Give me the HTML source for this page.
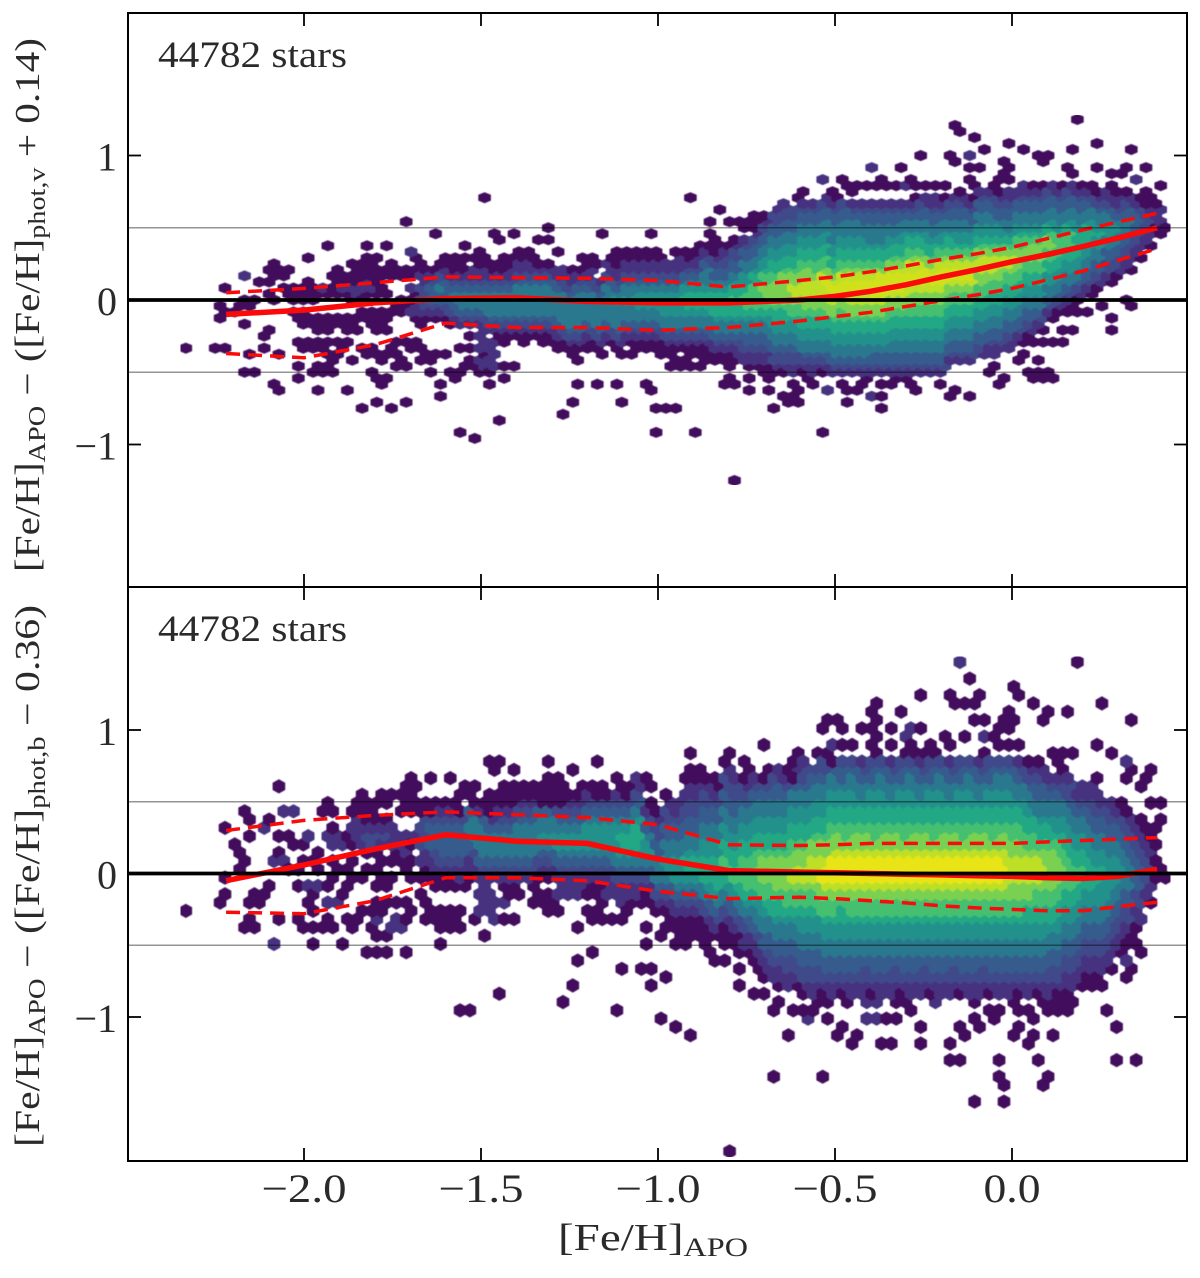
<!DOCTYPE html>
<html><head><meta charset="utf-8"><title>Metallicity residuals</title>
<style>
html,body{margin:0;padding:0;background:#fff}
svg{display:block}
text{font-family:"Liberation Serif",serif;fill:#2a2a2a}
</style></head>
<body>
<svg id="chart" xmlns="http://www.w3.org/2000/svg" width="1200" height="1278" viewBox="0 0 1200 1278">
<defs>
<clipPath id="clipTop"><rect x="128" y="12" width="1059" height="575"/></clipPath>
<clipPath id="clipBot"><rect x="128" y="587" width="1059" height="574"/></clipPath>
<filter id="soft" x="0" y="0" width="100%" height="100%"><feGaussianBlur stdDeviation="0.5"/></filter>
</defs>
<g id="panels"></g>
<text transform="translate(39,572) rotate(-90)" font-size="35" textLength="534" lengthAdjust="spacingAndGlyphs">[Fe/H]<tspan font-size="24" dy="6">APO</tspan><tspan dy="-6"> − ([Fe/H]</tspan><tspan font-size="24" dy="6">phot,v</tspan><tspan dy="-6"> + 0.14)</tspan></text>
<text transform="translate(39,1147) rotate(-90)" font-size="35" textLength="542" lengthAdjust="spacingAndGlyphs">[Fe/H]<tspan font-size="24" dy="6">APO</tspan><tspan dy="-6"> − ([Fe/H]</tspan><tspan font-size="24" dy="6">phot,b</tspan><tspan dy="-6"> − 0.36)</tspan></text>
<text x="558" y="1250" font-size="38" textLength="190" lengthAdjust="spacingAndGlyphs">[Fe/H]<tspan font-size="26" dy="6">APO</tspan></text>
</svg>
<script>
// ---- axis ticks ----
const xTickValues = [-2.0, -1.5, -1.0, -0.5, 0.0];
const xTickLabels = ["−2.0", "−1.5", "−1.0", "−0.5", "0.0"];
const yTickValues = [1, 0, -1];
const yTickLabels = ["1", "0", "−1"];
const refLevels = [0.5, -0.5];
const starCount = "44782 stars";
// ---- running statistics ----
const statFeH = [-2.22,-2.0,-1.8,-1.6,-1.4,-1.2,-1.0,-0.8,-0.6,-0.5,-0.4,-0.3,-0.2,-0.1,0,0.1,0.2,0.3,0.41];
const topMedian = [-0.10,-0.07,-0.02,0.01,0.015,-0.01,-0.02,-0.02,0.0,0.025,0.06,0.105,0.16,0.21,0.265,0.315,0.37,0.43,0.50];
const topUpper = [0.05,0.08,0.12,0.16,0.155,0.15,0.135,0.09,0.135,0.16,0.195,0.235,0.28,0.32,0.365,0.425,0.485,0.54,0.60];
const topLower = [-0.37,-0.40,-0.31,-0.16,-0.19,-0.19,-0.21,-0.19,-0.145,-0.115,-0.085,-0.045,-0.005,0.035,0.08,0.14,0.20,0.275,0.355];
const botMedian = [-0.05,0.06,0.17,0.27,0.225,0.21,0.10,0.02,0.01,0.005,0.0,-0.005,-0.01,-0.015,-0.02,-0.03,-0.035,-0.02,0.03];
const botUpper = [0.30,0.37,0.405,0.43,0.41,0.39,0.34,0.20,0.195,0.20,0.21,0.21,0.21,0.21,0.21,0.22,0.23,0.24,0.25];
const botLower = [-0.27,-0.28,-0.19,-0.03,-0.03,-0.05,-0.125,-0.175,-0.165,-0.175,-0.19,-0.205,-0.225,-0.24,-0.25,-0.26,-0.26,-0.23,-0.20];
// ---- hexbin cells: "column|row:levels row:levels" (levels run upward from the given row) ----
const topCells = [
"0|-8:0","3|-8:0 -3:0 -1:0","4|-8:0 -2:0 2:0","5|-2:00","6|-12:0 -9:0 -4:0 -1:00 4:1","7|-12:0 0:0 3:0",
"8|-8:0 -6:00 1:0 3:0 5:0","9|-15:00 -9:0 0:0 4:000","10|1:00 4:00","11|-13:0 -11:0 -7:0 -3:00 0:000",
"12|-8:00 -4:000 0:0000 7:0","13|-15:0 -12:00 -8:00 -5:000 0:000","14|-12:00 -9:000 -5:000 1:01 9:0",
"15|-12:0 -10:00 -7:0 -4:00 1:00000","16|-15:0 -8:00 -5:000 1:0100","17|-10:0 -5:000 0:0110000",
"18|-18:0 -9:00 -3:00 0:00110000 9:0","19|-17:0 -13:00 -9:00 -5:0000 1:0100000","20|-14:00 -10:00 -5:0000 1:00 4:00 9:0",
"21|-18:0 -11:0 -9:000 -2:00 4:000","22|-17:0 -11:00 -7:0 -2:000 4:00 13:0","23|-8:00 -3:01100 2:1 4:00 7:01",
"24|-10:000 -4:0012222110 6:0","25|-12:0 -10:00 -3:012333210 11:0","26|-16:0 -14:0 -9:0 -3:0123343210 7:0",
"27|-13:00 -4:01233432100 7:0","28|-22:0 -12:00 -8:0 -4:1234443210 6:00 9:0","29|-23:0 -11:00 -8:0 -6:0 -4:1234443211 7:0",
"30|-12:0110 -8:1111 -4:12344432110 7:00 17:0","31|-14:0 -12:011 -9:111 -5:123444432100 11:0",
"32|-20:0 -13:0 -11:0 -7:00 -5:1234444321000 10:0","33|-11:0 -6:0 -5:1234444321100 11:0",
"34|-7:0012344444321100","35|-6:012344444321100","36|-7:00123444443210 10:0","37|-7:00123444443210 10:0 12:0",
"38|-19:0 -8:00123444443211 8:0","39|-17:0 -9:001234444432110","40|-14:0 -10:0 -8:01234444443210 7:0",
"41|-8:0012344444321100","42|-14:0 -9:0 -8:012344444321 6:0 11:0","43|-7:012344444432110",
"44|-17:0 -14:0 -9:00123444454321100 8:0","45|-9:0 -7:0123444544321100","46|-8:0012344555432110 8:0",
"47|-15:0 -14:0 -8:0 -7:0123445554321100 11:0","48|-22:0 -18:0 -9:000123445554321100",
"49|-18:0 -11:0 -9:0 -8:012344555543211","50|-18:0 -11:00 -8:0123445555432111 8:0",
"51|-11:00 -9:0 -8:012344566654321 7:00 17:0","52|-22:0 -11:0 -9:0012344566654321100",
"53|-10:00 -8:01234456665444321 9:0 11:0 13:0","54|-10:000 -9:012344566665433210 9:00 15:0",
"55|-14:00 -11:00 -9:0123445666654332210 13:0","56|-30:0 -14:0 -10:011234456676654332210 13:0",
"57|-15:0 -13:0 -11:0112334456777655443321 12:0 13:0","58|-11:011233445677776654433210 13:0 14:0",
"59|-15:0 -13:0 -12:00112334456778877655443 3210","60|-18:0 -12:0122344556678888766554433221",
"61|-17:0 -16:0 -12:01223445566788888766554433221","62|-17:0 -16:0 -15:0 -14:0 -12:1122344556778998876655443322 17:0",
"63|-13:0 -12:01234455667889998876655443321 18:0","64|-14:0 -12:11234455667889998776655443321",
"65|-22:0 -15:1 -12:012344556678899a98776655443321 20:1","66|-12:1234455667889aa98766554443321 18:0 17:0",
"67|-17:0 -15:0 -14:0 -12:12344556677889aa9876655444332 19:0 20:0","68|-15:0 -12:12344556678899aa9876655444321 19:0 18:0",
"69|-14:0 -13:0 -12:12344556678899aa9876655443321 19:0","70|-16:1 -12:1233455667889aaa9876654443321 19:0 22:1",
"71|-18:0 -16:0 -14:0 -12:1233455667889aaaa876654443321 19:0 20:0","72|-14:0 -13:0 -12:12334455667889aaa987665443321 19:0",
"73|-13:0 -12:12334455667889aaa987665544321 19:1 22:0","74|-15:0 -14:0 -12:123344556677889aa9987665443210 19:0 20:0",
"75|-12:123344556677889aaa987665443321 24:0 19:0","76|-12:123344556677889aa9876654433211 19:0",
"77|-14:0 -12:123344556677889aaa987655443210 19:0","78|-16:0 -15:0 -10:12334455667789aa987665443321 24:0 23:0 29:0",
"79|-10:12334455667789aa987655443321 28:0 18:0","80|-16:0 -10:12334455667789aa987655433210 19:0 20:0 22:0 24:1 27:0",
"81|-9:1233445566778899987655443321 22:0 25:0","82|-12:00 -9:1123344556677899987655443321 19:0",
"83|-14:0 -13:0 -8:123344556677889987655433210 20:0 23:0 21:0","84|-8:112334455667789987654433211 20:0 26:0 22:0",
"85|-10:0 -9:0 -5:0 -7:012334455667788877654433211 25:0","86|-13:0 -12:0 -7:0 -6:01233445566778887654433 210",
"87|-13:0 -12:0 -10:0 -7:0 -5:0123445566778887654433210 23:0 24:0","88|-13:0 -12:0 -7:0 -3:01234455667788765443321 24:0",
"89|-7:0 -5:0 -2:0123445566777654433210","90|-5:0 -2:0 -1:012344556677765443321 21:0 25:0 22:0",
"91|-2:0 0:01234455666654433210 30:0","92|-2:0 1:0123344556665443210","93|-1:0 2:01233445565443210 22:0 26:0",
"94|-5:0 -3:0 3:0122334455443211 21:0 19:0","95|4:012233445432110 21:0","96|-1:00 5:01122334433210 22:0 25:0",
"97|7:01122333210 20:1","98|9:0112221000 22:0","99|11:001110 19:0","100|12:0"
];
const botCells = [
"0|-5:0","3|-4:0","4|-3:0 -1:0 5:0","5|0:0 2:00","6|-7:0 -6:0 -4:0 1:0 4:0 6:00","7|-7:0 -4:0 -3:0",
"8|-3:00 5:1 6:0","9|-9:1 -6:0 1:1 2:0 4:0 10:0","10|1:1 4:0 7:1 0:0","11|-6:0 -2:0 0:0 3:0 7:1",
"12|-7:0 -4:0 -2:1 1:0 3:0 4:1","13|-9:0 -7:0 -5:0 -3:0 -2:1 0:00 2:0","14|-7:0 -6:0 -4:1 -2:0 4:1 7:0 8:0",
"15|-7:0 -4:1 -1:0 0:0 1:0 3:1 4:1 5:0 7:0","16|-9:0 -6:0 -3:0 -2:0 0:0 3:1 4:0","17|-7:0 -6:0 -1:0 1:0 3:0 4:111 7:0 8:0",
"18|-10:0 -5:0 -1:0 0:0 2:0 3:1 4:2 5:1 6:0 7:0 8:0 9:0","19|-10:0 -8:0 -7:0 -6:1 -5:0 -4:0 -2:0 0:0 2:0 3:2 4:2 5:1 6:0 7:0 8:0",
"20|-10:0 -8:0 -5:0 -4:0 -2:0 -1:0 1:0 3:1 4:2 5:1 6:0 8:0 9:0","21|-7:1 -6:1 -4:0 -1:0 1:0 2:0 3:1 4:1 5:1 9:0",
"22|-10:0 -7:1 -6:0 -4:0 0:0 1:0 2:1 3:1 4:1 7:0 8:0 9:0 10:0","23|-5:0 -1:0 1:0 3:0 4:1 7:0 8:0 9:0 10:0 11:0",
"24|-6:0 -4:00 -1:001122221 7:00","25|-6:00 -2:001123332 7:0 8:0 11:0","26|-9:0 -7:00 -5:0 -2:0012333321 8:0",
"27|-7:00 -5:0 -2:0012333321 8:0 11:0","28|-17:0 -7:0 -5:0 -2:01123333 6:2 7:0 9:0 10:0","29|-17:0 -6:0 -1:011234443 8:0 9:0 10:0",
"30|-8:0 -5:1111 -1:12344443 7:1 8:0","31|-6:1111 -1:1234443 6:1 7:0 8:0 9:0 12:00","32|-15:0 -6:0 -4:1 -2:0 -1:1234443210 9:0 10:0 13:0",
"33|-6:0 -3:00 -1:12344432100 10:0 12:0","34|-3:0 -1:12344443211 9:0 10:0","35|-4:0 -2:0 -1:123444432100",
"36|-4:00 -1:01234544321 8:000","37|-5:000 -1:01234544321 8:00 10:0 11:0 13:0","38|-16:0 -5:0 -3:1 -2:1 -1:1234554320 8:0 9:0 10:0 11:0",
"39|-14:0 -3:11 -1:12345543210 9:0 12:0","40|-11:0 -7:0 -3:1 -2:1 -1:123455432100","41|-10:0 -6:0 -5:0 -3:0 -2:0 -1:123455543210 10:0",
"42|-6:00 -4:00 -2:0 -1:12345554321 9:0 10:0 13:0","43|-6:0 -3:1 -2:1 -1:12345554321 9:0","44|-17:0 -12:0 -6:0 -4:1 -3:1 -2:1 -1:234556543210 11:0",
"45|-5:00 -3:1 -2:1 -1:234566543210 9:0","46|-12:0 -4:0 -3:1 -2:12345666543211","47|-14:0 -12:0 -9:0 -7:0 -4:0 -3:012 0:345543210 10:0 11:0",
"48|-18:0 -8:0 -5:0123444332210","49|-13:0 -7:00 -5:01234554433 2210","50|-19:0 -9:0 -8:00 -6:012345554433211",
"51|-9:0 -20:0 -8:00 -6:0123456654433221100 14:0","52|-8:00 -7:00123456654433221100","53|-10:0 -9:00 -7:0123456665544332211 11:0",
"54|-11:0 -8:01234566665544332110 11:0 10:0","55|-34:0 -11:0 -9:0 -8:00123456776655443322100 13:0","56|-14:0 -12:0 -10:000 -8:01234567766554433221",
"57|-10:0112345677776655443210 11:0 12:0 13:0","58|-15:0 -12:001123445677877665544321","59|-15:0 -13:0112334456778887665544321 12:0 11:0 15:0",
"60|-25:0 -17:0 -16:0 -14:01123344566788887665544332 12:1","61|-20:0 -14:11223344567788887665544321 12:0",
"62|-17:0 -14:01223344567789 0:9887665544321 14:0 13:0 11:0","63|-18:1 -17:0 -15:012233445567789 0:9887665544322 13:1",
"64|-17:0 -16:0 -15:112233445567789 0:9988766554432 14:0","65|-25:0 -18:0 -16:0 -15:01233445567789a 0:a9887665544322 14:0 17:0 18:0",
"66|-20:0 -15:11233445567789a 0:aa988766554432 15:1 18:0 13:0","67|-19:0 -16:0 -15:01233445566789a 0:aa987766554332 15:0 17:0",
"68|-21:0 -20:0 -15:11233445567789aaa988766554432 15:0","69|-18:1 -16:1 -15:11223445567789a 0:aa988766544321 17:0",
"70|-18:1 -16:1 -15:01233445567789aaa987766554332 14:0 15:0 16:0 17:0 18:0 19:0 20:0","71|-21:0 -18:0 -15:11233445567789aaa988766554432",
"72|-21:0 -18:0 -16:0 -15:11223445567789aaa988766544321 15:0 17:0","73|-16:0 -15:01233445567789aaa987766554332 14:0 16:1 19:0",
"74|-17:0 -15:11233445567789aaa988766554432 14:0 15:0 17:1","75|-21:0 -19:0 -15:11223445567789aaa988766544321 14:0 17:0 21:0",
"76|-16:1 -15:01233445567789aaa987766554332 14:0 15:0","77|-15:11233445567789aaa988766554432 16:0",
"78|-23:0 -21:0 -15:11223445567789aaa988766544321 15:0 20:0 21:0","79|-23:0 -20:0 -19:0 -15:01233445567789aaa987766554332 16:0 20:0 25:1",
"80|-28:0 -18:0 -16:0 -15:11233445567789aaa988766554432 18:0 20:0 23:0","81|-19:0 -15:11223445567789aaa988766544321 14:0 16:1 18:0 21:0",
"82|-18:0 -17:0 -15:01233445567789aaa987766554332 16:0","83|-28:0 -26:0 -25:0 -23:0 -17:0 -15:11233445567789aaa988766554432 15:0 17:0 18:0",
"84|-20:0 -16:0 -15:112334455677889 0:99887766554432 15:0 17:0 18:0 19:0 22:0","85|-19:0 -17:0 -15:012334455677889 0:99887766544321 15:0 21:0",
"86|-21:0 -20:0 -18:0 -17:0 -15:112334455667889 0:9987766544321 13:0 20:0","87|-26:0 -23:0 -16:0 -15:012334455667789 0:9987665443321 13:0 18:0",
"88|-25:0 -20:0 -17:0 -16:0 -15:112233445667788 0:888766544321 14:0 19:0","89|-17:0 -16:0 -15:012233445566778 0:887765544321 12:00 14:0",
"90|-17:0 -16:0 -15:011223344556677 0:776655443221 14:0 19:0","91|-14:01122334455667 0:76655443211 25:0","92|-14:00112233445566 0:6655443321 10:1",
"93|-14:0 -13:0112233445556 0:6554433211 11:0 15:0 20:0","94|-17:0 -12:011223344555 0:554433221 14:0","95|-23:0 -19:0 -10:0112233445 0:554433210",
"96|-13:0 -12:0 -11:1 -9:001223344 0:44332210 11:0 12:0 13:1 18:0","97|-23:0 -10:0 -9:0 -7:0112233 0:3322110 10:0","98|-4:0112 0:221100 8:0 11:0 12:0",
"99|-1:000 3:0 5:00 8:0","100|-1:0"
];
// ---- scales ----
const levelColors = ["#420b5c","#46337f","#3f4a8a","#365c8d","#2a788e","#21918c","#22a884","#44bf70","#7ad151","#bddf26","#e8e419"];
const hexOriginFeH = -2.334, hexColumnFeH = 0.02768;
const X = v => 1012 + 354 * v;
const NS = "http://www.w3.org/2000/svg";
const root = document.getElementById("panels");
function mk(tag, attrs, parent){
  const el = document.createElementNS(NS, tag);
  for (const k in attrs) el.setAttribute(k, attrs[k]);
  parent.appendChild(el);
  return el;
}
function pathFrom(xs, ys, Y){
  return xs.map((v, i) => (i ? "L" : "M") + X(v).toFixed(1) + " " + Y(ys[i]).toFixed(1)).join(" ");
}
function drawPanel(name, cells, Y, rowStep, rowShift, shiftOnOdd, clipId, top, bottom, med, up, lo, showX, peakColor){
  const g = mk("g", {}, root);
  
  
  // hex cells
  const hg = mk("g", {"clip-path": "url(#" + clipId + ")"}, g);
  
  
  const inner = mk("g", {filter: "url(#soft)"}, hg);
  const hw = hexColumnFeH * 354 / 2;
  const hh = Math.abs(Y(rowStep) - Y(0)) * 2 / 3;
  cells.forEach(line => {
    const parts = line.split("|");
    const col = +parts[0];
    let start = 0;
    parts[1].trim().split(/\s+/).forEach(tok => {
      const t = tok.split(":");
      if (t.length === 2) start = +t[0];
      const levels = t[t.length - 1];
      for (let n = 0; n < levels.length; n++){
        const row = start + n;
        const odd = Math.abs(row) % 2 === 1;
        const off = (odd === shiftOnOdd) ? 0.5 : 0;
        const lvl = parseInt(levels[n], 16);
        const cx = X(hexOriginFeH + hexColumnFeH * (col + off));
        const cy = Y((row + rowShift) * rowStep);
        const color = lvl === 10 ? peakColor : levelColors[lvl];
        const pts = [[hw,hh/2],[0,hh],[-hw,hh/2],[-hw,-hh/2],[0,-hh],[hw,-hh/2]]
          .map(p => (cx + p[0]).toFixed(1) + "," + (cy + p[1]).toFixed(1)).join(" ");
        const el = mk("polygon", {points: pts, fill: color, stroke: color, "stroke-width": 2.8}, inner);
        
        
      }
      start += levels.length;
    });
  });
  // statistics lines
  const addStat = (arr, width, dash, label) => {
    const p = mk("path", {d: pathFrom(statFeH, arr, Y), fill: "none", stroke: "#fb0a0a", "stroke-width": width}, g);
    if (dash) p.setAttribute("stroke-dasharray", dash);
    
    
  };
  addStat(up, 3.5, "14 8", name + '-upper-quantile-line');
  addStat(lo, 3.5, "14 8", name + '-lower-quantile-line');
  addStat(med, 5.5, "", name + '-median-line');
  // reference lines
  refLevels.forEach(v => {
    const l = mk("line", {x1: 128, x2: 1187, y1: Y(v), y2: Y(v), stroke: "#000", "stroke-opacity": 0.42, "stroke-width": 1.4}, g);
    
    
  });
  const zero = mk("line", {x1: 128, x2: 1187, y1: Y(0), y2: Y(0), stroke: "#000", "stroke-width": 3.8}, g);
  
  
  // frame
  const frame = mk("rect", {x: 128, y: top, width: 1059, height: bottom - top, fill: "none", stroke: "#000", "stroke-width": 2}, g);
  
  
  // ticks
  xTickValues.forEach((v, i) => {
    const a = mk("line", {x1: X(v), x2: X(v), y1: top, y2: top + 13, stroke: "#000", "stroke-width": 1.8}, g);
    
    
    const b = mk("line", {x1: X(v), x2: X(v), y1: bottom, y2: bottom - 13, stroke: "#000", "stroke-width": 1.8}, g);
    
    
    if (showX){
      const w = xTickLabels[i].length === 3 ? 57 : 85;
      const t = mk("text", {x: X(v) - w / 2, y: 1202, "font-size": 40, textLength: w, lengthAdjust: "spacingAndGlyphs"}, g);
      t.textContent = xTickLabels[i];
      
      
    }
  });
  yTickValues.forEach((v, i) => {
    const a = mk("line", {x1: 128, x2: 141, y1: Y(v), y2: Y(v), stroke: "#000", "stroke-width": 1.8}, g);
    
    
    const b = mk("line", {x1: 1187, x2: 1174, y1: Y(v), y2: Y(v), stroke: "#000", "stroke-width": 1.8}, g);
    
    
    const t = mk("text", {x: 117, y: Y(v) + 15, "font-size": 40, "text-anchor": "end"}, g);
    t.textContent = yTickLabels[i];
    
    
  });
  const c = mk("text", {x: 158, y: top + 54, "font-size": 37, textLength: 189, lengthAdjust: "spacingAndGlyphs", fill: "#333"}, g);
  c.textContent = starCount;
  
  
}
drawPanel("top", topCells, v => 300 - 144.5 * v, 0.04165, 0, true, "clipTop", 13, 587, topMedian, topUpper, topLower, false, "#d0e11c");
drawPanel("bottom", botCells, v => 873.5 - 143.5 * v, 0.0578, 0.5, false, "clipBot", 587, 1161, botMedian, botUpper, botLower, true, "#e8e419");
</script>
</body></html>
